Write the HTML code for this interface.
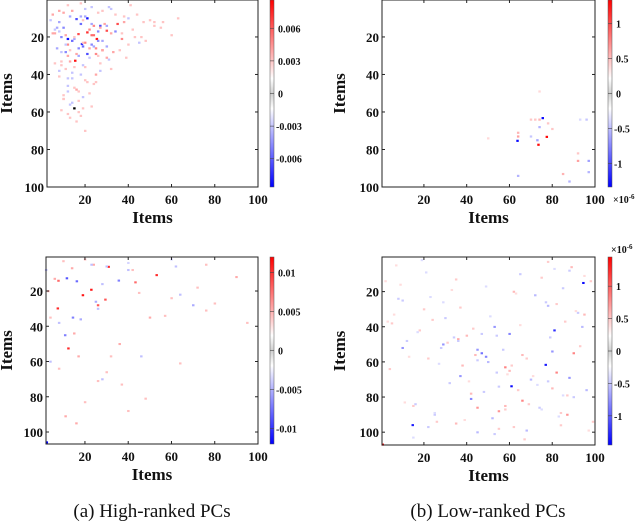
<!DOCTYPE html>
<html><head><meta charset="utf-8"><style>
body{margin:0;background:#fff;}
svg text{font-family:"Liberation Serif",serif;}
.tk{font-weight:bold;font-size:13px;fill:#111;}
.cb{font-weight:bold;font-size:10px;fill:#111;}
.ax{font-weight:bold;font-size:17px;fill:#111;}
.cap{font-size:19px;fill:#111;}
</style></head><body>
<svg id="fig" width="640" height="524" viewBox="0 0 640 524" xmlns="http://www.w3.org/2000/svg">
<defs><linearGradient id="cbg" x1="0" y1="1" x2="0" y2="0">
<stop offset="0" stop-color="#0000ff"/><stop offset="0.42" stop-color="#ffffff"/><stop offset="0.5" stop-color="#cfcfcf"/><stop offset="0.58" stop-color="#ffffff"/><stop offset="1" stop-color="#ff0000"/></linearGradient></defs>
</svg>
<script>
// Panel A (top-left) cells: row, col, value (x1e-3)
const aRows=[21,10,17.5,21,16.6,32.6,18.4,23.7,14,13,29,10.4,8,12,15,18,20,22,24,26,28,6,9,14,17,19,25,27,30,33,36,40,44,48,52,57,63,12,16,20,24,28,11,15,19,23,27,31,14,18,22,26,9,13,17,21,10,12,45,38,50,7,11,8,35,42,60,70,25,30,
 3,5,7,4,6,9,11,13,15,17,19,21,23,25,27,29,31,33,35,37,39,41,43,46,49,53,55,58,61,65,2,4,6,8,10,12,14,16,18,20,22,24,26,28,30,32,34,36,38,40,42,47,51,54,56,59,62,20,23,26,16,13,19,29,22,24,18,15,27,31,9,5,3,12,34,37,44,49,53,58];
const aCols=[12,21,21,25.4,30,15.4,16.9,18.5,27,35,21,16,5,8,10,6,9,14,12,7,11,14,18,24,26,23,19,28,17,13,15,18,21,16,19,23,13,38,42,46,40,33,50,55,60,45,36,39,30,32,28,25,20,29,34,37,63,52,24,27,22,10,4,44,9,14,17,20,30,12,
 12,20,26,31,8,13,19,23,27,8,11,15,20,24,13,16,22,9,19,11,14,8,20,12,17,10,14,19,12,16,18,23,28,34,40,47,52,6,37,43,48,11,22,9,26,31,6,20,8,25,12,15,10,17,13,9,18,15,19,17,22,18,24,25,26,23,5,7,28,30,38,32,41,56,27,32,25,12,10,15];
const aVals=[-8,-8,7,8,6,8,6,-7,-6,6,-6,-6,3,-3,-4,3,-4,-5,4,-3,-4,3,-3,4,-4,5,-5,4,-3,3,2,-2,2,3,-2,2,2,3,2,2,2,3,2,2,2,-2,2,2,-3,3,-3,4,-3,3,-4,4,2,2,2,-2,2,3,-2,2,2,-2,2,2,-3,3,
 2,-2,2,-2,3,-3,2,-3,3,-2,3,-3,4,-3,2,3,-2,2,-2,2,-2,2,2,-2,2,2,-2,2,2,2,2,-2,2,2,-2,2,2,-2,2,2,2,-2,3,-2,2,-2,2,2,-2,3,-2,2,2,2,-2,2,2,2,2,-4,4,-5,5,4,-4,-4,3,-3,3,3,2,-2,2,2,2,2,2,-2,2];
// Panel B (top-right) cells, value x1e-6
const bRows=[63.2,75.3,73.2,77.4,71,73,64,64,64,73,68,66,69,93,82,86,86,92,94,75,97,64,64,49,74];
const bCols=[75.5,63.7,77.4,73.5,64,64,70,72,74,70,74,78,80,85,92,92,97,97,64,73,88,96,93,74,50];
const bVals=[-1.3,-1.3,1.3,1.3,0.4,0.5,0.3,0.3,0.4,-0.3,-0.4,0.3,0.3,0.4,0.3,0.5,-0.5,-0.4,-0.4,-0.5,-0.4,-0.3,-0.2,0.2,0.2];
// Panel C (bottom-left) cells, value x1e-3
const cRows=[22.3,19.2,29.8,52.5,6.2,10.9,24.8,28,15,14.1,105.8,12.7,14.4,35,45,14,50,35,44,57,73,95,91,57,24,12,38,34,61,27,31,18,21,8,64,83,71,88,7,20,13,35,5,66,81,5,70,28,22,26,8,38,36,6,8,16,57,60,6,5,30,2,3,4,2];
const cCols=[19,22.9,7.4,12.3,30.9,53.1,29.4,26,43.3,7.7,2.3,11.6,16.2,14.4,10.8,35.6,36,50,15,17,37,16,11,32,60,90,95,57,64,80,76,72,45,42,8,20,26,40,14,3,6,4,24,30,48,76,28,70,64,25,2,8,18,62,40,28,46,4,30,23,26,20,10,40,60];
const cVals=[11,11,10,10,10,10,8,8,7,7,-12,-8,-7,-6,-6,-6,4,4,4,4,3,4,4,3,3,4,3,3,3,3,3,3,3,3,3,3,3,3,4,4,4,3,4,3,3,3,-3,-4,-3,-4,-3,-3,-4,-3,-3,-3,-3,-3,-3,-3,-3,3,3,-2,-2];
// Panel D (bottom-right) cells, value x1e-6
const dRows=[15,95.9,73.8,61.6,42,107,55,57,81,44,40,68,53,52,50,54,69,63,66,55,82,86,47,90,88,28,20,25,30,35,45,60,65,70,75,80,85,90,95,100,98,10,12,18,33,38,48,58,72,78,92,97,22,27,32,42,52,62,77,87,99,3,8,14,24,36,46,56,66,76,86,96,40,64,84,94,
 5,9,13,17,21,26,31,37,43,49,59,67,73,79,83,89,93,101,104,7,11,16,23,29,34,39,46,51,57,61,71,74,84,91,99,2,19,44,62,87,6,14,26,41,53,68,79,94,103,33,48,58,76,85,97,37,45,56,71,89];
const dCols=[94.5,14.7,60.9,76.9,81,0.7,47,49,42,60,53,37,45,10,29,80,88,58,82,90,66,45,36,87,55,78,62,10,20,30,40,50,60,70,80,90,15,25,35,45,55,65,75,85,95,5,12,22,32,42,52,62,72,82,92,18,28,38,48,58,68,78,88,98,8,24,34,44,54,64,74,84,94,4,16,26,
 7,21,35,49,63,77,91,3,17,31,45,59,73,87,11,25,39,53,67,81,95,9,23,37,51,65,79,93,13,27,41,55,69,83,97,19,33,47,61,75,89,2,29,43,57,71,85,99,15,6,36,68,96,58,22,86,54,66,78,84];
const dVals=[-1.4,-1.3,-1.4,-1.3,-1.2,1.4,-0.8,-0.7,-0.7,-0.7,-0.6,-0.6,-0.6,-0.6,-0.6,-0.6,-0.6,0.7,0.7,0.7,0.7,0.6,0.5,0.6,0.6,-0.4,0.4,-0.3,0.3,-0.3,0.4,-0.4,0.4,-0.4,0.4,-0.3,0.3,-0.3,0.4,-0.4,0.3,-0.3,0.3,-0.3,0.4,0.3,-0.3,0.3,-0.3,0.4,-0.4,0.3,-0.4,0.3,-0.3,0.3,-0.3,0.4,-0.3,0.3,-0.4,0.3,-0.3,0.3,-0.3,0.3,-0.3,0.4,-0.3,0.3,-0.3,0.3,-0.4,0.3,-0.3,0.3,
 0.2,-0.2,0.3,-0.2,0.2,-0.3,0.2,0.2,-0.2,0.3,-0.3,0.2,-0.2,0.3,0.2,-0.2,0.2,-0.3,0.3,-0.2,0.2,0.2,-0.2,0.3,-0.2,0.2,-0.3,0.3,0.2,-0.2,0.2,-0.3,0.3,-0.2,0.2,-0.2,0.2,-0.3,0.3,-0.2,0.4,0.2,-0.2,0.3,-0.3,0.2,-0.2,0.3,-0.2,0.2,-0.3,0.3,-0.4,0.4,-0.3,0.3,-0.3,0.4,-0.3,0.3];
const xTicks=[20,40,60,80,100];
const yTicksTop=[20,40,60,80,100];
const yTicksBot=[20,40,60,80,100];
const cbA=["0.006","0.003","0","-0.003","-0.006"], cbAv=[6,3,0,-3,-6];
const cbB=["1","0.5","0","-0.5","-1"], cbBv=[1,0.5,0,-0.5,-1];
const cbC=["0.01","0.005","0","-0.005","-0.01"], cbCv=[10,5,0,-5,-10];
const cbD=["1","0.5","0","-0.5","-1"], cbDv=[1,0.5,0,-0.5,-1];

const NS="http://www.w3.org/2000/svg", svg=document.getElementById('fig');
function mk(tag,attrs,parent,txt){const e=document.createElementNS(NS,tag);for(const k in attrs)e.setAttribute(k,attrs[k]);if(txt!==undefined)e.textContent=txt;(parent||svg).appendChild(e);return e;}
function lin(d0,d1,r0,r1){return v=>r0+(v-d0)/(d1-d0)*(r1-r0);}
function col(v,m){let t=Math.max(-1,Math.min(1,v/m));const c=Math.round(255*(1-Math.abs(t)));return t>=0?`rgb(255,${c},${c})`:`rgb(${c},${c},255)`;}

function panel(p){
  const g=mk('g',{});
  
  
  const x=lin(p.xd[0],p.xd[1],p.L,p.R), y=lin(p.yd[0],p.yd[1],p.T,p.B);
  const cw=(p.R-p.L)/(p.xd[1]-p.xd[0]), ch=(p.B-p.T)/(p.yd[1]-p.yd[0]);
  mk('rect',{x:p.L,y:p.T,width:p.R-p.L,height:p.B-p.T,fill:'#fff'},g);
  for(let i=0;i<p.rows.length;i++){
    const r=mk('rect',{x:x(p.cols[i])-cw/2,y:y(p.rows[i])-ch/2,width:cw+0.3,height:ch+0.3,fill:col(p.vals[i],p.max)},g);
    
    
  }
  mk('rect',{x:p.L,y:p.T,width:p.R-p.L,height:p.B-p.T,fill:'none',stroke:'#222','stroke-width':1},g);
  xTicks.forEach(t=>{const px=x(t);mk('line',{x1:px,x2:px,y1:p.B,y2:p.B-3,stroke:'#222'},g);mk('line',{x1:px,x2:px,y1:p.T,y2:p.T+3,stroke:'#222'},g);
    const tx=mk('text',{x:px,y:p.B+17,'text-anchor':'middle',class:'tk'},g,t);});
  p.yt.forEach(t=>{const py=y(t);mk('line',{x1:p.L,x2:p.L+3,y1:py,y2:py,stroke:'#222'},g);mk('line',{x1:p.R,x2:p.R-3,y1:py,y2:py,stroke:'#222'},g);
    const tx=mk('text',{x:p.L-3,y:py+5,'text-anchor':'end',class:'tk'},g,t);});
  const xl=mk('text',{x:(p.L+p.R)/2,y:p.B+36,'text-anchor':'middle',class:'ax'},g,'Items');
  
  const yc=(p.T+p.B)/2, yl=mk('text',{x:p.yx,y:yc,'text-anchor':'middle',class:'ax',transform:`rotate(-90 ${p.yx} ${yc})`},g,'Items');
  
  const cb=mk('rect',{x:p.cbx,y:p.T,width:4,height:p.B-p.T,fill:'url(#cbg)',stroke:'#555','stroke-width':0.5},g);
  
  const cy=lin(-p.max,p.max,p.B,p.T);
  p.cbl.forEach((l,i)=>{const py=cy(p.cbv[i]);mk('line',{x1:p.cbx,x2:p.cbx+4,y1:py,y2:py,stroke:'#444','stroke-width':0.6},g);
    const tx=mk('text',{x:p.cbx+(l[0]=='-'?6:8),y:py+4,class:'cb'},g,l);});
  if(p.exp){const e=mk('text',{x:p.exp[0],y:p.exp[1],class:'cb','font-weight':'normal'},g);
    e.appendChild(document.createTextNode('\u00d710'));mk('tspan',{dy:-4,'font-size':'7px'},e,'-6');}
}
panel({name:'heatmap-high-ranked-top',rows:aRows,cols:aCols,vals:aVals,max:8.6,L:47,R:258,T:0,B:187,xd:[2.4,100],yd:[0.3,100],yt:yTicksTop,yx:12,cbx:270,cbl:cbA,cbv:cbAv});
panel({name:'heatmap-low-ranked-top',rows:bRows,cols:bCols,vals:bVals,max:1.34,L:382,R:595,T:0,B:187,xd:[0.4,100],yd:[0.3,100],yt:yTicksTop,yx:345,cbx:608,cbl:cbB,cbv:cbBv,exp:[613,203]});
panel({name:'heatmap-high-ranked-bottom',rows:cRows,cols:cCols,vals:cVals,max:12,L:46,R:258,T:257,B:444,xd:[2,100],yd:[0.7,106.8],yt:yTicksBot,yx:12,cbx:270,cbl:cbC,cbv:cbCv});
panel({name:'heatmap-low-ranked-bottom',rows:dRows,cols:dCols,vals:dVals,max:1.45,L:382,R:595,T:257,B:445,xd:[0.4,100],yd:[0.3,107.3],yt:yTicksBot,yx:345,cbx:608,cbl:cbD,cbv:cbDv,exp:[611,253]});
const c1=mk('text',{x:152,y:517,'text-anchor':'middle',class:'cap'},svg,'(a) High-ranked PCs');

const c2=mk('text',{x:488,y:517,'text-anchor':'middle',class:'cap'},svg,'(b) Low-ranked PCs');

</script>
</body></html>
